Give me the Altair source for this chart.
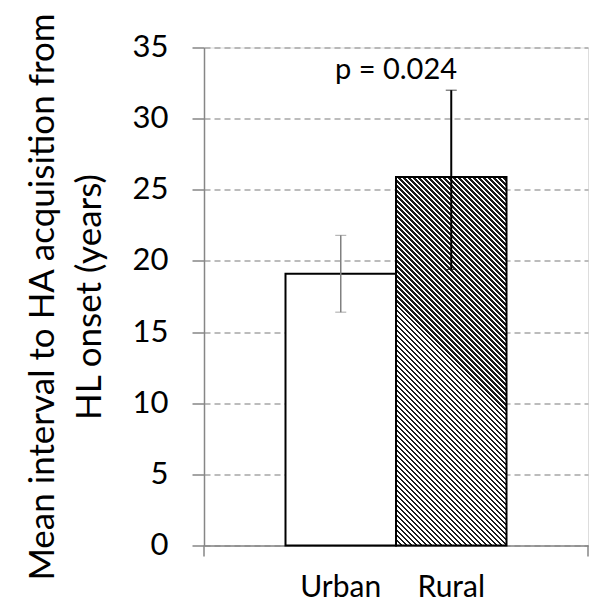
import altair as alt
import pandas as pd

# ---- data ----
categories = ["Urban", "Rural"]
means = [19.1, 25.9]
err_low = [16.4, 19.4]
err_high = [21.8, 32.0]
err_colors = ["#808080", "#000000"]
err_widths = [1.5, 2.0]
y_ticks = [0, 5, 10, 15, 20, 25, 30, 35]
p_label = "p = 0.024"
p_label_y = 33.4

df = pd.DataFrame({
    "cat": categories,
    "mean": means,
    "lo": err_low,
    "hi": err_high,
    "ecol": err_colors,
    "ew": err_widths,
})

# ---- layout / style ----
W, H = 384, 498
PAD_OUTER = 0.7376
YMAX = 35
FONT = "Lato"

# hatch pattern for Rural bar (\\\ diagonal lines) via linear gradient
step = W / (2 + 2 * PAD_OUTER)
bw = step
bh = means[1] / YMAX * H
k = (bw + bh) * bh / (bh ** 2 + bw ** 2)
n_stripes = int(round((bw + bh) / 5.0))
dark_frac = 0.5
stops = []
for i in range(n_stripes):
    a = i / n_stripes
    b = (i + dark_frac) / n_stripes
    c = (i + 1) / n_stripes
    stops += [
        {"offset": a, "color": "#1a1a1a"},
        {"offset": b, "color": "#1a1a1a"},
        {"offset": b, "color": "#ffffff"},
        {"offset": c, "color": "#ffffff"},
    ]
hatch = {
    "gradient": "linear",
    "x1": 0, "y1": 1,
    "x2": k * bw / bh, "y2": 1 - k,
    "stops": stops,
}

x_enc = alt.X(
    "cat:N",
    sort=categories,
    scale=alt.Scale(paddingInner=0, paddingOuter=PAD_OUTER),
    axis=alt.Axis(
        title=None, ticks=False, tickSize=0, grid=False,
        labelAngle=0, labelFont=FONT, labelFontSize=30,
        labelBaseline="alphabetic", labelPadding=51,
        labelColor="#000000",
        domainColor="#868686", domainWidth=1.5,
    ),
)
y_scale = alt.Scale(domain=[0, YMAX], nice=False)
y_enc = alt.Y(
    "mean:Q",
    scale=y_scale,
    axis=alt.Axis(
        values=y_ticks,
        title=["Mean interval to HA acquisition from", "HL onset (years)"],
        titleFont=FONT, titleFontSize=35, titleFontWeight="normal",
        titleColor="#000000", titleAngle=-90, titleAlign="center",
        titleBaseline="alphabetic", titleLineHeight=47,
        titleX=-151, titleY=H / 2,
        labelFont=FONT, labelFontSize=31, labelColor="#000000",
        labelPadding=24,
        tickSize=12, tickColor="#868686", tickWidth=1.5,
        domainColor="#868686", domainWidth=1.5,
        grid=True, gridColor="#a6a6a6", gridDash=[6, 4], gridWidth=1.5,
    ),
)

base = alt.Chart(df)

bar_urban = base.transform_filter(alt.datum.cat == "Urban").mark_bar(
    fill="#ffffff", stroke="#000000", strokeWidth=2
).encode(x=x_enc, y=y_enc)

bar_rural = base.transform_filter(alt.datum.cat == "Rural").mark_bar(
    fill=hatch, stroke="#000000", strokeWidth=2
).encode(x=x_enc, y=y_enc)

err_rule = base.mark_rule().encode(
    x=alt.X("cat:N", sort=categories),
    y=alt.Y("lo:Q", scale=y_scale),
    y2="hi:Q",
    color=alt.Color("ecol:N", scale=None),
    strokeWidth=alt.StrokeWidth("ew:Q", scale=None),
)
err_cap_hi = base.mark_tick(orient="horizontal", size=11).encode(
    x=alt.X("cat:N", sort=categories),
    y=alt.Y("hi:Q", scale=y_scale),
    color=alt.Color("ecol:N", scale=None),
    strokeWidth=alt.StrokeWidth("ew:Q", scale=None),
)
err_cap_lo = base.mark_tick(orient="horizontal", size=11).encode(
    x=alt.X("cat:N", sort=categories),
    y=alt.Y("lo:Q", scale=y_scale),
    color=alt.Color("ecol:N", scale=None),
    strokeWidth=alt.StrokeWidth("ew:Q", scale=None),
)

p_text = alt.Chart(pd.DataFrame({"t": [p_label]})).mark_text(
    font=FONT, fontSize=29, color="#000000", align="center", baseline="middle"
).encode(
    text="t:N",
    x=alt.value(W / 2),
    y=alt.datum(p_label_y, scale=y_scale),
)

edge_tick_l = alt.Chart(pd.DataFrame({"a": [0]})).mark_rule(
    color="#868686", strokeWidth=1.5
).encode(x=alt.value(0), y=alt.value(H), y2=alt.value(H + 11))
edge_tick_r = alt.Chart(pd.DataFrame({"a": [0]})).mark_rule(
    color="#868686", strokeWidth=1.5
).encode(x=alt.value(W), y=alt.value(H), y2=alt.value(H + 11))

chart = alt.layer(
    bar_urban, bar_rural, err_rule, err_cap_hi, err_cap_lo, p_text,
    edge_tick_l, edge_tick_r,
).properties(
    width=W, height=H,
    padding={"left": 196, "top": 39.5, "right": 8, "bottom": 60},
    autosize="none",
).configure_view(stroke=None).configure(background="#ffffff")

chart.save("out.html", embed_options={"renderer": "svg", "actions": False})
